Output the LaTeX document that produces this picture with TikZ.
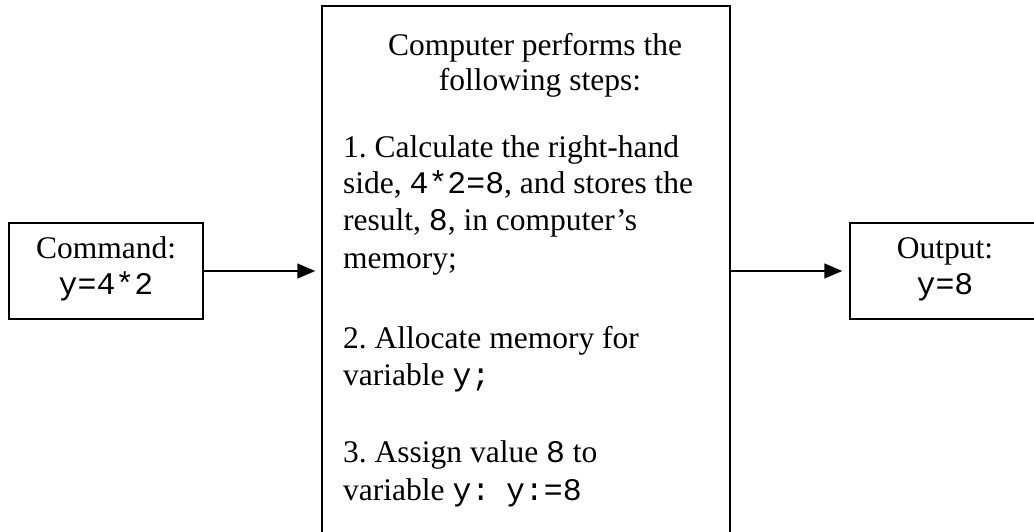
\documentclass[tikz,border=0pt]{standalone}
\usepackage{fontspec}
\setmainfont{Liberation Serif}
\newfontfamily\cf{Liberation Mono}
\usetikzlibrary{arrows.meta}
\begin{document}
\frenchspacing
\begin{tikzpicture}[x=1pt,y=-1pt,
  box/.style={draw,line width=1.5pt,inner sep=0pt},
  txt/.style={inner sep=0pt,font=\fontsize{31.5}{36}\selectfont},
  ln/.style={txt,anchor=base west},
  ttl/.style={txt,anchor=base},
  arr/.style={line width=1.5pt,-{Triangle[length=18pt,width=15pt]}}]
\clip (0,0) rectangle (1034,531);
\fill[white] (0,0) rectangle (1034,531);
% boxes
\node[box,minimum width=194pt,minimum height=96pt] (cmd) at (106,271) {};
\node[box,minimum width=408pt,minimum height=560pt] (mid) at (526,286) {};
\node[box,minimum width=210pt,minimum height=96pt] (out) at (955,271) {};
% side texts
\node[txt,align=center] (cmdt) at (106,269) {Command:\\{\cf y=4*2}};
\node[txt,align=center] (outt) at (945,269) {Output:\\{\cf y=8}};
% middle texts
\node[ttl] (t1) at (535,55) {Computer performs the};
\node[ttl] (t2) at (540,90) {following steps:};
\node[ln] (a1) at (343,157) {1. Calculate the right-hand};
\node[ln] (a2) at (343,193) {side, {\cf 4*2=8}, and stores the};
\node[ln] (a3) at (343,230) {result, {\cf 8}, in computer’s};
\node[ln] (a4) at (343,268) {memory;};
\node[ln] (b1) at (343,348) {2. Allocate memory for};
\node[ln] (b2) at (343,385) {variable {\cf y;}};
\node[ln] (c1) at (343,462) {3. Assign value {\cf 8} to};
\node[ln] (c2) at (343,500) {variable {\cf y:} \ {\cf y:=8}};
% arrows
\draw[arr,shorten >=6pt] (cmd.east) -- (cmd.east -| mid.west);
\draw[arr,shorten >=7pt] (mid.east |- out.west) -- (out.west);
\end{tikzpicture}
\end{document}
